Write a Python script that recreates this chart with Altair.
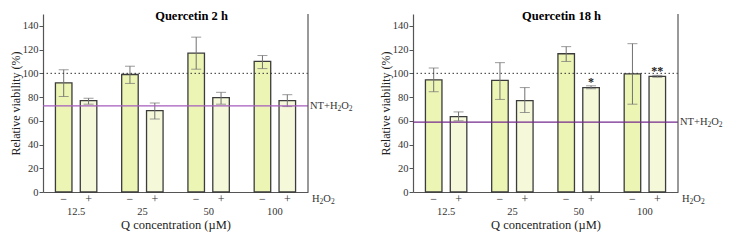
import altair as alt
import pandas as pd

# Concentrations and H2O2 treatment levels
conc = ["12.5", "25", "50", "100"]
h2o2 = ["\u2212", "+"]

# Quercetin 2 h: mean relative viability and error bar ends (order: conc x [-, +])
q2_mean = [92, 77, 99, 68.5, 117, 79.5, 110, 77]
q2_lo = [80.5, 74, 91.5, 61.5, 103.5, 74, 104, 72]
q2_hi = [103, 79, 106, 75, 130.5, 84, 115, 82]
q2_stars = ["", "", "", "", "", "", "", ""]
q2_nt = 72.5

# Quercetin 18 h
q18_mean = [94.5, 63.5, 94, 77, 116.5, 88, 99.5, 97.5]
q18_lo = [84.5, 60, 78, 67, 110, 87, 74, 96.7]
q18_hi = [104.5, 67.5, 109, 88, 122.5, 89.5, 125, 98.3]
q18_stars = ["", "", "", "", "", "*", "", "**"]
q18_nt = 58.8

W, H = 265, 178
FONT = "Liberation Serif"
AXIS_COLOR = "#555555"
TEXT_COLOR = "#333333"

Y_SCALE = alt.Scale(domain=[0, 150], nice=False)
Y_AXIS = alt.Axis(title="Relative viability (%)", values=[0, 20, 40, 60, 80, 100, 120, 140],
                  grid=False, tickSize=4, labelPadding=1, titlePadding=0,
                  labelFontSize=10.5, titleFontSize=12, labelOverlap=False,
                  titleFontWeight="normal")

# Times-metric glyph widths (em) used to lay out labels with subscripts
GLYPH_W = {"N": 0.722, "T": 0.611, "+": 0.564, "H": 0.722, "O": 0.722, "2": 0.5}

# single-row source for reference lines and annotations
ONE = pd.DataFrame({"k": [0]})


def yenc(field):
    return alt.Y(field, scale=Y_SCALE, axis=Y_AXIS)


def chem_label(parts, x0, y, size=10.5, sub_size=7.5):
    """Text pieces like [("NT+H", False), ("2", True), ...] with lowered subscripts."""
    layers = []
    x = x0
    for txt, is_sub in parts:
        fs = sub_size if is_sub else size
        layers.append(
            alt.Chart(ONE).mark_text(font=FONT, fontSize=fs, fontWeight="normal",
                                     align="left", baseline="middle", color=TEXT_COLOR,
                                     dy=3 if is_sub else 0).encode(
                x=alt.value(x), y=y, text=alt.value(txt))
        )
        x += sum(GLYPH_W[c] for c in txt) * fs
    return layers


def panel(title, mean, lo, hi, stars, nt, nt_color):
    df = pd.DataFrame({
        "conc": [c for c in conc for _ in h2o2],
        "h2o2": [t for _ in conc for t in h2o2],
        "mean": mean,
        "lo": lo,
        "hi": hi,
        "star": stars,
    })
    x = alt.X("conc:N", sort=conc,
              scale=alt.Scale(paddingInner=0, paddingOuter=0),
              axis=alt.Axis(title="Q concentration (\u00b5M)", labelAngle=0,
                            ticks=False, labelPadding=14, titlePadding=2,
                            labelFontSize=10.5, titleFontSize=12.5,
                            titleFontWeight="normal"))
    xo = alt.XOffset("h2o2:N", sort=h2o2,
                     scale=alt.Scale(paddingInner=0.335, paddingOuter=0.5))

    base = alt.Chart(df)
    bars = base.mark_bar(stroke="#3c3c3c", strokeWidth=1.3).encode(
        x=x, xOffset=xo, y=yenc("mean:Q"),
        fill=alt.Fill("h2o2:N", sort=h2o2,
                      scale=alt.Scale(domain=h2o2, range=["#edf5b5", "#f5f9da"]),
                      legend=None),
    )
    err = base.mark_rule(color="#707070", strokeWidth=1).encode(
        x=x, xOffset=xo, y=yenc("lo:Q"), y2="hi:Q")
    cap_lo = base.mark_tick(color="#707070", size=10, thickness=1).encode(
        x=x, xOffset=xo, y=yenc("lo:Q"))
    cap_hi = base.mark_tick(color="#707070", size=10, thickness=1).encode(
        x=x, xOffset=xo, y=yenc("hi:Q"))
    star = base.mark_text(font=FONT, fontSize=12, fontWeight="bold",
                          baseline="bottom", dy=3, color="#222").encode(
        x=x, xOffset=xo, y=yenc("hi:Q"), text="star:N")
    signs = base.mark_text(font=FONT, fontSize=12, fontWeight="normal",
                           baseline="middle", color=TEXT_COLOR).encode(
        x=x, xOffset=xo, y=alt.value(H + 7), text="h2o2:N")

    ref100 = alt.Chart(ONE).mark_rule(color="#333", strokeDash=[1.5, 2.5], strokeWidth=1).encode(
        y=alt.datum(100, scale=Y_SCALE, axis=Y_AXIS))
    ntline = alt.Chart(ONE).mark_rule(color=nt_color, strokeWidth=1.3).encode(
        y=alt.datum(nt, scale=Y_SCALE, axis=Y_AXIS))
    nt_text = chem_label([("NT+H", False), ("2", True), ("O", False), ("2", True)],
                         W + 2, alt.datum(nt, scale=Y_SCALE, axis=Y_AXIS))
    h2o2_text = chem_label([("H", False), ("2", True), ("O", False), ("2", True)],
                           W + 4, alt.value(H + 7))
    border = alt.Chart(ONE).mark_rule(color=AXIS_COLOR, strokeWidth=1.2).encode(
        x=alt.value(W), y=alt.value(0), y2=alt.value(H))

    return alt.layer(
        bars, err, cap_lo, cap_hi, ref100, ntline, star, signs, *nt_text, *h2o2_text, border
    ).properties(
        width=W, height=H,
        title=alt.TitleParams(title, font=FONT, fontSize=12.5, fontWeight="bold",
                              offset=-9, anchor="middle", dx=16),
    )


left = panel("Quercetin 2 h", q2_mean, q2_lo, q2_hi, q2_stars, q2_nt, "#a45bbd")
right = panel("Quercetin 18 h", q18_mean, q18_lo, q18_hi, q18_stars, q18_nt, "#74288c")

chart = alt.hconcat(left, right, spacing=105, bounds="flush").properties(
    padding={"left": 9, "top": 9, "right": 5, "bottom": 8},
    background="white",
).configure_view(stroke=None).configure_axis(
    labelFont=FONT, titleFont=FONT, domainColor=AXIS_COLOR, tickColor=AXIS_COLOR,
    domainWidth=1.2, labelColor=TEXT_COLOR, titleColor="#222",
)

chart.save("out.html", embed_options={"renderer": "svg", "actions": False})
